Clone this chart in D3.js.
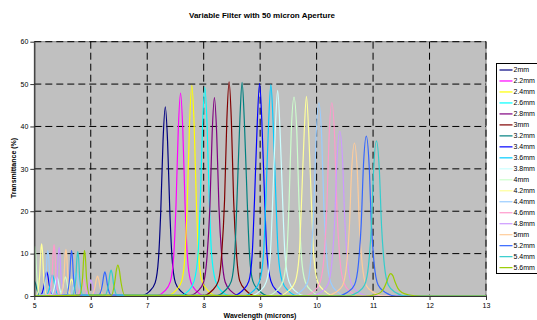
<!DOCTYPE html>
<html>
<head>
<meta charset="utf-8">
<script src="https://cdn.jsdelivr.net/npm/d3@7/dist/d3.min.js"></script>
<style>
  body { margin: 0; background: #fff; }
  svg { display: block; font-family: "Liberation Sans", Arial, sans-serif; }
</style>
</head>
<body>
<div id="chart"></div>
<script>
// series names and colours (Excel default line palette)
const seriesNames = ['2mm', '2.2mm', '2.4mm', '2.6mm', '2.8mm', '3mm', '3.2mm', '3.4mm', '3.6mm', '3.8mm',
  '4mm', '4.2mm', '4.4mm', '4.6mm', '4.8mm', '5mm', '5.2mm', '5.4mm', '5.6mm'];
const seriesColors = ['#000080', '#ff00ff', '#ffff00', '#00ffff', '#800080', '#800000', '#008080', '#0000ff',
  '#00ccff', '#ccffff', '#ccffcc', '#ffff99', '#99ccff', '#ff99cc', '#cc99ff', '#ffcc99', '#3366ff', '#33cccc', '#99cc00'];

const xTicks = [5, 6, 7, 8, 9, 10, 11, 12, 13];
const yTicks = [0, 10, 20, 30, 40, 50, 60];

// transmittance readings [wavelength (microns), transmittance (%)]
const t2_0 = [[4.8,0],[6.87,0],[7.04,1.1],[7.14,3.1],[7.20,8.9],[7.24,20.1],[7.28,36.6],[7.32,44.6],[7.36,36.6],[7.40,20.1],[7.44,8.9],[7.50,3.1],[7.60,1.1],[7.77,0],[13,0]];
const t2_2 = [[4.8,0],[7.14,0],[7.31,1.2],[7.41,3.4],[7.47,9.6],[7.51,21.6],[7.55,39.3],[7.59,47.9],[7.63,39.3],[7.67,21.6],[7.71,9.6],[7.77,3.4],[7.87,1.2],[8.04,0],[13,0]];
const t2_4 = [[4.8,0],[7.33,0],[7.50,1.2],[7.61,3.5],[7.67,9.9],[7.71,22.4],[7.75,40.8],[7.79,49.7],[7.83,40.8],[7.87,22.4],[7.91,9.9],[7.97,3.5],[8.08,1.2],[8.25,0],[13,0]];
const t2_6 = [[4.8,0],[7.55,0],[7.73,1.2],[7.83,3.5],[7.90,9.9],[7.94,22.2],[7.98,40.4],[8.02,49.3],[8.06,40.4],[8.10,22.2],[8.14,9.9],[8.21,3.5],[8.31,1.2],[8.49,0],[13,0]];
const t2_8 = [[4.8,0],[7.72,0],[7.90,1.2],[8.00,3.3],[8.06,9.4],[8.11,21.1],[8.15,38.4],[8.19,46.8],[8.23,38.4],[8.27,21.1],[8.32,9.4],[8.38,3.3],[8.48,1.2],[8.66,0],[13,0]];
const t3_0 = [[4.8,0],[7.97,0],[8.15,1.3],[8.26,3.5],[8.32,10.1],[8.37,22.7],[8.41,41.4],[8.45,50.5],[8.49,41.4],[8.53,22.7],[8.58,10.1],[8.64,3.5],[8.75,1.3],[8.93,0],[13,0]];
const t3_2 = [[4.8,0],[4.89,0.1],[4.955,1.6],[4.98,3.0],[5.00,3.5],[5.02,3.0],[5.045,1.6],[5.11,0.1],
  [8.20,0],[8.38,1.3],[8.49,3.5],[8.55,10.1],[8.59,22.7],[8.64,41.3],[8.68,50.4],[8.72,41.3],[8.77,22.7],[8.81,10.1],[8.87,3.5],[8.98,1.3],[9.16,0],[13,0]];
const t3_4 = [[4.8,0],[5.11,0.2],[5.175,2.6],[5.20,4.8],[5.22,5.7],[5.24,4.8],[5.265,2.6],[5.33,0.2],
  [8.50,0],[8.69,1.3],[8.80,3.5],[8.86,10.0],[8.90,22.6],[8.95,41.2],[8.99,50.2],[9.03,41.2],[9.08,22.6],[9.12,10.0],[9.19,3.5],[9.29,1.3],[9.48,0],[13,0]];
const t3_6 = [[4.8,0],[5.21,0.2],[5.275,2.3],[5.30,4.3],[5.32,5.0],[5.34,4.3],[5.365,2.3],[5.43,0.2],
  [8.70,0],[8.88,1.2],[8.99,3.5],[9.06,10.0],[9.10,22.5],[9.15,40.9],[9.19,49.9],[9.23,40.9],[9.28,22.5],[9.32,10.0],[9.39,3.5],[9.50,1.2],[9.68,0],[13,0]];
const t3_8 = [[4.8,0],[5.29,0.1],[5.355,2.0],[5.38,3.8],[5.40,4.5],[5.42,3.8],[5.445,2.0],[5.51,0.1],
  [8.81,0],[9.00,1.2],[9.11,3.4],[9.18,9.7],[9.22,21.8],[9.27,39.8],[9.31,48.5],[9.35,39.8],[9.40,21.8],[9.44,9.7],[9.51,3.4],[9.62,1.2],[9.81,0],[13,0]];
const t4_0 = [[4.8,0],[4.92,0.2],[4.975,4.7],[4.995,10.0],[5.01,11.8],[5.025,10.0],[5.045,4.7],[5.10,0.2],
  [5.44,0.1],[5.505,2.0],[5.53,3.8],[5.55,4.5],[5.57,3.8],[5.595,2.0],[5.66,0.1],
  [9.10,0],[9.29,1.2],[9.40,3.3],[9.47,9.4],[9.51,21.1],[9.55,38.5],[9.60,46.9],[9.65,38.5],[9.69,21.1],[9.73,9.4],[9.80,3.3],[9.91,1.2],[10.10,0],[13,0]];
const t4_2 = [[4.8,0],[5.04,0.2],[5.095,4.9],[5.115,10.5],[5.13,12.3],[5.145,10.5],[5.165,4.9],[5.22,0.2],
  [5.55,0.1],[5.615,1.8],[5.64,3.4],[5.66,4.0],[5.68,3.4],[5.705,1.8],[5.77,0.1],
  [9.31,0],[9.50,1.2],[9.62,3.3],[9.69,9.4],[9.73,21.2],[9.78,38.6],[9.82,47.1],[9.86,38.6],[9.91,21.2],[9.95,9.4],[10.02,3.3],[10.14,1.2],[10.33,0],[13,0]];
const t4_4 = [[4.8,0],[5.15,0.2],[5.205,4.3],[5.225,9.2],[5.24,10.8],[5.255,9.2],[5.275,4.3],[5.33,0.2],
  [5.63,0.2],[5.695,2.5],[5.72,4.7],[5.74,5.5],[5.76,4.7],[5.785,2.5],[5.85,0.2],
  [9.53,0],[9.72,1.1],[9.84,3.2],[9.90,9.1],[9.95,20.5],[9.99,37.4],[10.04,45.6],[10.09,37.4],[10.13,20.5],[10.18,9.1],[10.25,3.2],[10.36,1.1],[10.55,0],[13,0]];
const t4_6 = [[4.8,0],[5.26,0.2],[5.315,4.8],[5.335,10.3],[5.35,12.1],[5.365,10.3],[5.385,4.8],[5.44,0.2],
  [5.75,0.1],[5.815,1.8],[5.84,3.4],[5.86,4.0],[5.88,3.4],[5.905,1.8],[5.97,0.1],
  [9.75,0],[9.95,1.1],[10.06,3.2],[10.13,9.1],[10.18,20.5],[10.22,37.4],[10.27,45.6],[10.32,37.4],[10.36,20.5],[10.41,9.1],[10.48,3.2],[10.59,1.1],[10.79,0],[13,0]];
const t4_8 = [[4.8,0],[5.35,0.2],[5.405,4.6],[5.425,9.8],[5.44,11.5],[5.455,9.8],[5.475,4.6],[5.53,0.2],
  [5.89,0.1],[5.955,1.7],[5.98,3.2],[6.00,3.8],[6.02,3.2],[6.045,1.7],[6.11,0.1],
  [9.89,0],[10.09,1.0],[10.20,2.7],[10.27,7.8],[10.32,17.5],[10.36,31.9],[10.41,38.9],[10.46,31.9],[10.50,17.5],[10.55,7.8],[10.62,2.7],[10.73,1.0],[10.93,0],[13,0]];
const t5_0 = [[4.8,0],[5.47,0.2],[5.525,4.4],[5.545,9.4],[5.56,11.0],[5.575,9.4],[5.595,4.4],[5.65,0.2],
  [6.01,0.1],[6.075,2.1],[6.10,4.0],[6.12,4.7],[6.14,4.0],[6.165,2.1],[6.23,0.1],
  [10.14,0],[10.34,0.9],[10.46,2.5],[10.53,7.2],[10.58,16.2],[10.62,29.6],[10.67,36.1],[10.72,29.6],[10.76,16.2],[10.81,7.2],[10.88,2.5],[11.00,0.9],[11.20,0],[13,0]];
const t5_2 = [[4.8,0],[5.57,0.2],[5.625,4.3],[5.645,9.1],[5.66,10.7],[5.675,9.1],[5.695,4.3],[5.75,0.2],
  [6.14,0.2],[6.205,2.6],[6.23,4.8],[6.25,5.7],[6.27,4.8],[6.295,2.6],[6.36,0.2],
  [10.35,0],[10.55,0.9],[10.67,2.6],[10.74,7.5],[10.79,17.0],[10.83,30.9],[10.88,37.7],[10.93,30.9],[10.97,17.0],[11.02,7.5],[11.09,2.6],[11.21,0.9],[11.41,0],[13,0]];
const t5_4 = [[4.8,0],[5.68,0.2],[5.735,4.2],[5.755,8.9],[5.77,10.5],[5.785,8.9],[5.805,4.2],[5.86,0.2],
  [6.25,0.2],[6.315,2.7],[6.34,5.2],[6.36,6.1],[6.38,5.2],[6.405,2.7],[6.47,0.2],
  [10.52,0],[10.73,0.9],[10.85,2.6],[10.92,7.3],[10.97,16.5],[11.01,30.0],[11.06,36.6],[11.11,30.0],[11.15,16.5],[11.20,7.3],[11.27,2.6],[11.39,0.9],[11.60,0],[13,0]];
const t5_6 = [[4.8,0],[5.80,0.2],[5.855,4.3],[5.875,9.1],[5.89,10.7],[5.905,9.1],[5.925,4.3],[5.98,0.2],
  [6.37,0.2],[6.425,3.3],[6.455,6.2],[6.48,7.3],[6.505,6.2],[6.535,3.3],[6.60,0.2],
  [10.86,0],[11.03,0.3],[11.13,0.8],[11.19,1.8],[11.24,3.3],[11.28,4.8],[11.31,5.3],[11.35,4.8],[11.39,3.3],[11.44,1.8],[11.51,0.8],[11.62,0.3],[11.85,0],[13,0]];

const curves = [t2_0, t2_2, t2_4, t2_6, t2_8, t3_0, t3_2, t3_4, t3_6, t3_8,
  t4_0, t4_2, t4_4, t4_6, t4_8, t5_0, t5_2, t5_4, t5_6];

const width = 537, height = 320;
const plot = { left: 34.3, right: 486, top: 41.7, bottom: 296 };

const svg = d3.select('#chart')
  .append('svg')
  .attr('width', width)
  .attr('height', height);

svg.append('rect').attr('width', width).attr('height', height).attr('fill', '#fff');

const x = d3.scaleLinear().domain([5, 13]).range([plot.left, plot.right]);
const y = d3.scaleLinear().domain([0, 60]).range([plot.bottom, plot.top]);

// title
svg.append('text')
  .attr('x', 262)
  .attr('y', 18)
  .attr('text-anchor', 'middle')
  .attr('font-size', '8px')
  .attr('font-weight', 'bold')
  .text('Variable Filter with 50 micron Aperture');

// plot area
svg.append('rect')
  .attr('x', plot.left)
  .attr('y', plot.top)
  .attr('width', plot.right - plot.left)
  .attr('height', plot.bottom - plot.top)
  .attr('fill', '#c0c0c0')
  .attr('stroke', '#808080')
  .attr('stroke-width', 1);

// dashed gridlines
const grid = svg.append('g').attr('class', 'grid')
  .attr('stroke', '#000')
  .attr('stroke-width', 1)
  .attr('stroke-dasharray', '7,4');

grid.selectAll('line.h')
  .data(yTicks.filter(d => d > 0))
  .enter()
  .append('line')
  .attr('class', 'h')
  .attr('x1', plot.left)
  .attr('x2', plot.right)
  .attr('y1', d => y(d))
  .attr('y2', d => y(d));

grid.selectAll('line.v')
  .data(xTicks.filter(d => d > 5))
  .enter()
  .append('line')
  .attr('class', 'v')
  .attr('x1', d => x(d))
  .attr('x2', d => x(d))
  .attr('y1', plot.top)
  .attr('y2', plot.bottom);

// curves
svg.append('clipPath').attr('id', 'clip')
  .append('rect')
  .attr('x', plot.left)
  .attr('y', plot.top - 2)
  .attr('width', plot.right - plot.left)
  .attr('height', plot.bottom - plot.top + 2);

const line = d3.line()
  .x(d => x(d[0]))
  .y(d => y(d[1]))
  .curve(d3.curveMonotoneX);

svg.append('g')
  .attr('clip-path', 'url(#clip)')
  .selectAll('path')
  .data(curves)
  .enter()
  .append('path')
  .attr('d', d => line(d))
  .attr('fill', 'none')
  .attr('stroke', (d, i) => seriesColors[i])
  .attr('stroke-width', 1.2);

// axes
const yAxis = svg.append('g')
  .attr('transform', `translate(${plot.left},0)`)
  .call(d3.axisLeft(y).tickValues(yTicks).tickSize(4).tickSizeOuter(0).tickPadding(2));

const xAxis = svg.append('g')
  .attr('transform', `translate(0,${plot.bottom})`)
  .call(d3.axisBottom(x).tickValues(xTicks).tickSize(4).tickSizeOuter(0).tickPadding(3));

[yAxis, xAxis].forEach(a => {
  a.selectAll('path.domain').attr('stroke', '#333').attr('stroke-width', 1.2);
  a.selectAll('line').attr('stroke', '#333');
  a.selectAll('text')
    .attr('font-size', '7px')
    .attr('font-family', '"Liberation Sans", Arial, sans-serif')
    .attr('fill', '#000');
});

// axis titles
svg.append('text')
  .attr('x', 260)
  .attr('y', 318)
  .attr('text-anchor', 'middle')
  .attr('font-size', '7px')
  .attr('font-weight', 'bold')
  .text('Wavelength (microns)');

svg.append('text')
  .attr('transform', 'translate(16,168) rotate(-90)')
  .attr('text-anchor', 'middle')
  .attr('font-size', '7px')
  .attr('font-weight', 'bold')
  .text('Transmittance (%)');

// legend
const legend = svg.append('g').attr('transform', 'translate(496.5,63.5)');

legend.append('rect')
  .attr('width', 60)
  .attr('height', 210)
  .attr('fill', '#fff')
  .attr('stroke', '#000')
  .attr('stroke-width', 1);

const items = legend.selectAll('g.item')
  .data(seriesNames)
  .enter()
  .append('g')
  .attr('class', 'item')
  .attr('transform', (d, i) => `translate(0,${6.5 + i * 10.98})`);

items.append('line')
  .attr('x1', 3)
  .attr('x2', 16)
  .attr('stroke', (d, i) => seriesColors[i])
  .attr('stroke-width', 1.2);

items.append('text')
  .attr('x', 17)
  .attr('dy', '0.35em')
  .attr('font-size', '7px')
  .attr('fill', '#000')
  .text(d => d);
</script>
</body>
</html>
